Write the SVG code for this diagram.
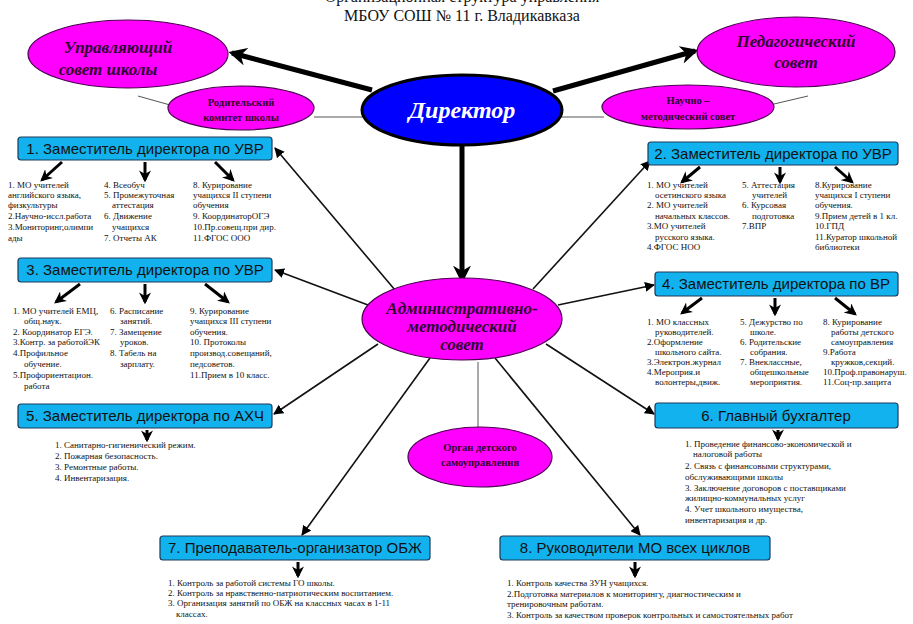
<svg xmlns="http://www.w3.org/2000/svg" width="913" height="624" viewBox="0 0 913 624">
<style>
.ell{fill:#ff00ff;stroke:#4b0050;stroke-width:1.2}
.et{font-family:"Liberation Serif",serif;font-weight:bold;fill:#2e0030;text-anchor:middle}
.big{font-size:17px;font-style:italic}
.sm{font-size:10.5px}
.box{fill:#12b2ee;stroke:#1c3a5a;stroke-width:1.2}
.bt{font-family:"Liberation Sans",Arial,sans-serif;font-size:15px;fill:#111;text-anchor:middle}
.tx{font-family:"Liberation Serif",serif;font-size:9px;fill:#111}
.thin{stroke:#111;stroke-width:1.6;fill:none}
.gray{stroke:#555;stroke-width:1;fill:none}
.thick{stroke:#000;stroke-width:5;fill:none}
.sub{stroke:#000;stroke-width:3;fill:none}
</style>
<defs>
<marker id="ah" viewBox="0 0 10 10" refX="9" refY="5" markerWidth="10" markerHeight="10" markerUnits="userSpaceOnUse" orient="auto"><path d="M0,0 L10,5 L0,10 z" fill="#000"/></marker>
<marker id="ahb" viewBox="0 0 10 10" refX="8" refY="5" markerWidth="18" markerHeight="18" markerUnits="userSpaceOnUse" orient="auto"><path d="M0,0 L10,5 L0,10 L3,5 z" fill="#000"/></marker>
<marker id="ahs" viewBox="0 0 10 10" refX="8" refY="5" markerWidth="12" markerHeight="12" markerUnits="userSpaceOnUse" orient="auto"><path d="M0,0 L10,5 L0,10 L3,5 z" fill="#000"/></marker>
<clipPath id="c1"><rect x="0" y="170" width="300" height="74"/></clipPath>
</defs>
<rect width="913" height="624" fill="#fff"/>
<g id="title" font-family="Liberation Serif,serif" font-size="16" fill="#111" text-anchor="middle">
<text x="462" y="2">Организационная структура управления</text>
<text x="462" y="21">МБОУ СОШ № 11 г. Владикавказа</text>
</g>
<g id="connectors">
<line class="gray" x1="138" y1="96" x2="170" y2="105"/>
<line class="gray" x1="314" y1="117" x2="604" y2="117"/>
<line class="gray" x1="774" y1="104" x2="808" y2="96"/>
<line class="gray" x1="478" y1="362" x2="478" y2="428"/>
<line class="thick" x1="372" y1="90" x2="232" y2="53" marker-end="url(#ahb)"/>
<line class="thick" x1="553" y1="91" x2="695" y2="51" marker-end="url(#ahb)"/>
<line class="thick" x1="462" y1="146" x2="462" y2="280" marker-end="url(#ahb)"/>
<line class="thin" x1="395" y1="290" x2="275" y2="148" marker-end="url(#ah)"/>
<line class="thin" x1="533" y1="289" x2="650" y2="161" marker-end="url(#ah)"/>
<line class="thin" x1="368" y1="305" x2="275" y2="270" marker-end="url(#ah)"/>
<line class="thin" x1="558" y1="305" x2="654" y2="285" marker-end="url(#ah)"/>
<line class="thin" x1="378" y1="344" x2="274" y2="414" marker-end="url(#ah)"/>
<line class="thin" x1="546" y1="344" x2="654" y2="414" marker-end="url(#ah)"/>
<line class="thin" x1="430" y1="358" x2="302" y2="535" marker-end="url(#ah)"/>
<line class="thin" x1="495" y1="358" x2="640" y2="535" marker-end="url(#ah)"/>
<line class="sub" x1="62" y1="162" x2="42" y2="180" marker-end="url(#ahs)"/>
<line class="sub" x1="145" y1="162" x2="145" y2="180" marker-end="url(#ahs)"/>
<line class="sub" x1="215" y1="162" x2="233" y2="180" marker-end="url(#ahs)"/>
<line class="sub" x1="700" y1="167" x2="682" y2="182" marker-end="url(#ahs)"/>
<line class="sub" x1="780" y1="167" x2="780" y2="182" marker-end="url(#ahs)"/>
<line class="sub" x1="835" y1="167" x2="852" y2="182" marker-end="url(#ahs)"/>
<line class="sub" x1="80" y1="284" x2="56" y2="302" marker-end="url(#ahs)"/>
<line class="sub" x1="145" y1="284" x2="145" y2="302" marker-end="url(#ahs)"/>
<line class="sub" x1="205" y1="284" x2="228" y2="302" marker-end="url(#ahs)"/>
<line class="sub" x1="702" y1="298" x2="682" y2="313" marker-end="url(#ahs)"/>
<line class="sub" x1="775" y1="298" x2="775" y2="314" marker-end="url(#ahs)"/>
<line class="sub" x1="835" y1="298" x2="855" y2="314" marker-end="url(#ahs)"/>
<line class="sub" x1="147" y1="430" x2="147" y2="440" marker-end="url(#ahs)"/>
<line class="sub" x1="778" y1="430" x2="778" y2="439" marker-end="url(#ahs)"/>
<line class="sub" x1="298" y1="562" x2="298" y2="576" marker-end="url(#ahs)"/>
<line class="sub" x1="635" y1="562" x2="635" y2="576" marker-end="url(#ahs)"/>
</g>
<g id="upravl"><ellipse class="ell" cx="128" cy="54" rx="100" ry="34"/>
<text class="et big" x="118" y="53">Управляющий</text><text class="et big" x="108" y="75">совет школы</text></g>
<g id="roditel"><ellipse class="ell" cx="241" cy="108" rx="73" ry="22"/>
<text class="et sm" x="241" y="106">Родительский</text><text class="et sm" x="241" y="121">комитет школы</text></g>
<g id="pedsovet"><ellipse class="ell" cx="796" cy="52" rx="99" ry="35"/>
<text class="et big" x="796" y="47">Педагогический</text><text class="et big" x="796" y="68">совет</text></g>
<g id="nauchno"><ellipse class="ell" cx="688" cy="107" rx="86" ry="22"/>
<text class="et sm" x="688" y="104">Научно –</text><text class="et sm" x="688" y="120">методический совет</text></g>
<g id="director"><ellipse cx="462" cy="110" rx="100" ry="35" fill="#0000ff" stroke="#000" stroke-width="3"/>
<text x="462" y="118" font-family="Liberation Serif,serif" font-size="24" font-weight="bold" font-style="italic" fill="#fff" text-anchor="middle">Директор</text></g>
<g id="admsovet"><ellipse class="ell" cx="462" cy="319" rx="100" ry="41"/>
<text class="et big" x="462" y="314">Административно-</text><text class="et big" x="462" y="332">методический</text><text class="et big" x="462" y="350">совет</text></g>
<g id="organ"><ellipse class="ell" cx="480" cy="457" rx="72" ry="30"/>
<text class="et sm" x="480" y="451">Орган детского</text><text class="et sm" x="480" y="466">самоуправления</text></g>
<g id="box1"><rect class="box" x="18" y="137" width="254" height="23" rx="3"/><text class="bt" x="145" y="154">1. Заместитель директора по УВР</text>
<g class="tx" clip-path="url(#c1)">
<text x="8" y="188">1. МО учителей</text><text x="8" y="198">английского языка,</text><text x="8" y="208">физкультуры</text><text x="8" y="219">2.Научно-иссл.работа</text><text x="8" y="230">3.Мониторинг,олимпи</text><text x="8" y="241">ады</text>
<text x="104" y="188">4. Всеобуч</text><text x="104" y="198">5. Промежуточная</text><text x="112" y="208">аттестация</text><text x="104" y="219">6. Движение</text><text x="112" y="230">учащихся</text><text x="104" y="241">7. Отчеты АК</text>
<text x="193" y="188">8. Курирование</text><text x="193" y="198">учащихся II ступени</text><text x="193" y="208">обучения</text><text x="193" y="219">9. КоординаторОГЭ</text><text x="193" y="230">10.Пр.совещ.при дир.</text><text x="193" y="241">11.ФГОС ООО</text>
</g></g>
<g id="box2"><rect class="box" x="648" y="142" width="250" height="23" rx="3"/><text class="bt" x="773" y="159">2. Заместитель директора по УВР</text>
<g class="tx">
<text x="647" y="188">1. МО учителей</text><text x="655" y="198">осетинского языка</text><text x="647" y="208">2. МО учителей</text><text x="655" y="219">начальных классов.</text><text x="647" y="229">3.МО учителей</text><text x="655" y="240">русского языка.</text><text x="647" y="250">4.ФГОС НОО</text>
<text x="742" y="188">5. Аттестация</text><text x="752" y="198">учителей</text><text x="742" y="208">6. Курсовая</text><text x="752" y="219">подготовка</text><text x="742" y="229">7.ВПР</text>
<text x="815" y="188">8.Курирование</text><text x="815" y="198">учащихся I ступени</text><text x="815" y="208">обучения.</text><text x="815" y="219">9.Прием детей в 1 кл.</text><text x="815" y="229">10.ГПД</text><text x="815" y="240">11.Куратор школьной</text><text x="815" y="250">библиотеки</text>
</g></g>
<g id="box3"><rect class="box" x="18" y="258" width="254" height="24" rx="3"/><text class="bt" x="145" y="275">3. Заместитель директора по УВР</text>
<g class="tx">
<text x="13" y="314">1. МО учителей ЕМЦ,</text><text x="24" y="324">общ.наук.</text><text x="13" y="335">2. Координатор ЕГЭ.</text><text x="13" y="345">3.Контр. за работойЭК</text><text x="13" y="356">4.Профильное</text><text x="24" y="367">обучение.</text><text x="13" y="378">5.Профориентацион.</text><text x="24" y="389">работа</text>
<text x="110" y="314">6. Расписание</text><text x="120" y="324">занятий.</text><text x="110" y="335">7.  Замещение</text><text x="120" y="345">уроков.</text><text x="110" y="356">8. Табель на</text><text x="120" y="367">зарплату.</text>
<text x="190" y="314">9. Курирование</text><text x="190" y="324">учащихся III ступени</text><text x="190" y="335">обучения.</text><text x="190" y="345">10. Протоколы</text><text x="190" y="356">производ.совещаний,</text><text x="190" y="367">педсоветов.</text><text x="190" y="378">11.Прием в 10 класс.</text>
</g></g>
<g id="box4"><rect class="box" x="655" y="272" width="243" height="24" rx="3"/><text class="bt" x="776" y="289">4. Заместитель директора по ВР</text>
<g class="tx">
<text x="647" y="325">1. МО классных</text><text x="655" y="335">руководителей.</text><text x="647" y="345">2.Оформление</text><text x="655" y="355">школьного сайта.</text><text x="647" y="365">3.Электрон.журнал</text><text x="647" y="375">4.Мероприя.и</text><text x="655" y="385">волонтеры,движ.</text>
<text x="740" y="325">5. Дежурство по</text><text x="750" y="335">школе.</text><text x="740" y="345">6. Родительские</text><text x="750" y="355">собрания.</text><text x="740" y="365">7. Внеклассные,</text><text x="750" y="375">общешкольные</text><text x="750" y="385">мероприятия.</text>
<text x="823" y="325">8. Курирование</text><text x="831" y="335">работы детского</text><text x="831" y="345">самоуправления</text><text x="823" y="355">9.Работа</text><text x="831" y="365">кружков,секций.</text><text x="823" y="375">10.Проф.правонаруш.</text><text x="823" y="385">11.Соц-пр.защита</text>
</g></g>
<g id="box5"><rect class="box" x="18" y="404" width="254" height="24" rx="3"/><text class="bt" x="145" y="421">5. Заместитель директора по АХЧ</text>
<g class="tx">
<text x="55" y="448">1. Санитарно-гигиенический режим.</text><text x="55" y="459">2. Пожарная безопасность.</text><text x="55" y="470">3. Ремонтные работы.</text><text x="55" y="481">4. Инвентаризация.</text>
</g></g>
<g id="box6"><rect class="box" x="655" y="403" width="243" height="25" rx="3"/><text class="bt" x="776" y="421">6. Главный бухгалтер</text>
<g class="tx">
<text x="685" y="447">1. Проведение финансово-экономической и</text><text x="693" y="457">налоговой работы</text><text x="685" y="469">2. Связь с финансовыми структурами,</text><text x="685" y="480">обслуживающими школы</text><text x="685" y="491">3. Заключение договоров с поставщиками</text><text x="685" y="501">жилищно-коммунальных услуг</text><text x="685" y="512">4. Учет школьного имущества,</text><text x="685" y="523">инвентаризация и др.</text>
</g></g>
<g id="box7"><rect class="box" x="160" y="536" width="270" height="24" rx="3"/><text class="bt" x="295" y="553">7. Преподаватель-организатор ОБЖ</text>
<g class="tx">
<text x="168" y="586">1. Контроль за работой системы ГО школы.</text><text x="168" y="596">2. Контроль за нравственно-патриотическим воспитанием.</text><text x="168" y="606">3. Организация занятий по ОБЖ на классных часах в 1-11</text><text x="176" y="617">классах.</text>
</g></g>
<g id="box8"><rect class="box" x="500" y="536" width="270" height="24" rx="3"/><text class="bt" x="635" y="553">8. Руководители МО всех циклов</text>
<g class="tx">
<text x="507" y="586">1. Контроль качества ЗУН учащихся.</text><text x="507" y="597">2.Подготовка материалов к мониторингу, диагностическим и</text><text x="507" y="607">тренировочным работам.</text><text x="507" y="618">3. Контроль за качеством проверок  контрольных и самостоятельных работ</text>
</g></g>
</svg>
